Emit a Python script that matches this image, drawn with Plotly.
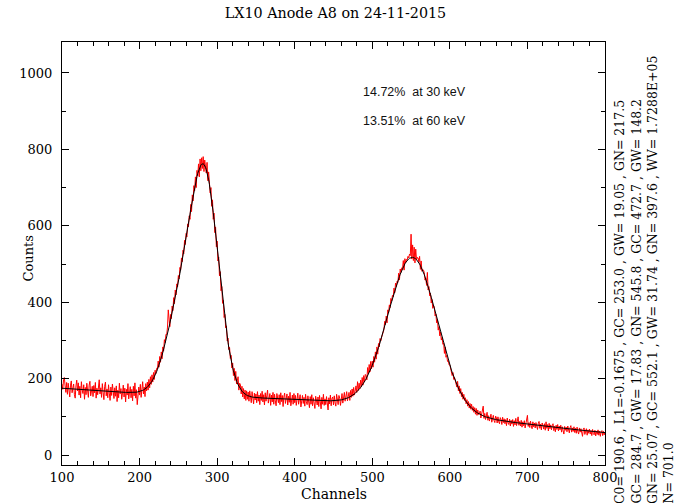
import numpy as np
import plotly.graph_objects as go

# Measured spectrum: counts per channel, channels 100..800 (N = 701)
first_channel = 100
counts = [
    186, 172, 197, 203, 181, 164, 190, 159, 188, 170,
    152, 183, 194, 163, 178, 186, 158, 149, 181, 196,
    168, 189, 157, 180, 150, 192, 171, 161, 184, 146,
    177, 158, 188, 167, 151, 183, 193, 155, 172, 180,
    153, 182, 163, 190, 149, 175, 158, 185, 197, 160,
    176, 151, 187, 164, 145, 180, 191, 155, 173, 150,
    184, 162, 143, 178, 156, 186, 160, 148, 176, 154,
    181, 140, 170, 150, 188, 160, 174, 146, 163, 183,
    152, 175, 139, 172, 157, 187, 147, 166, 179, 150,
    172, 142, 180, 155, 189, 149, 171, 132, 163, 178,
    157, 185, 151, 172, 192, 160, 178, 153, 187, 168,
    191, 170, 198, 176, 205, 185, 210, 191, 216, 198,
    222, 213, 227, 225, 246, 230, 258, 243, 270, 252,
    283, 272, 302, 294, 316, 315, 335, 380, 357, 336,
    368, 357, 390, 378, 412, 396, 432, 419, 448, 440,
    470, 461, 491, 484, 516, 506, 536, 527, 562, 551,
    580, 571, 605, 597, 626, 617, 656, 637, 681, 665,
    705, 692, 728, 700, 745, 731, 762, 728, 775, 744,
    778, 750, 781, 742, 772, 745, 738, 766, 718, 741,
    722, 686, 700, 651, 668, 617, 633, 582, 597, 545,
    560, 508, 518, 469, 480, 430, 441, 397, 405, 360,
    368, 333, 338, 299, 306, 276, 282, 253, 261, 228,
    241, 208, 227, 195, 219, 186, 194, 205, 170, 188,
    185, 160, 180, 152, 174, 147, 170, 143, 168, 146,
    165, 141, 168, 146, 137, 166, 150, 134, 162, 144,
    160, 137, 166, 141, 157, 132, 161, 143, 167, 139,
    158, 131, 163, 141, 155, 170, 136, 152, 161, 130,
    157, 139, 164, 133, 159, 142, 129, 161, 146, 137,
    158, 132, 163, 140, 156, 127, 152, 162, 135, 151,
    160, 131, 154, 138, 164, 129, 151, 157, 133, 161,
    137, 156, 130, 152, 162, 133, 149, 158, 126, 153,
    156, 135, 151, 128, 159, 140, 132, 155, 137, 124,
    153, 133, 158, 129, 150, 136, 122, 154, 140, 131,
    152, 127, 156, 137, 121, 151, 133, 159, 130, 147,
    132, 153, 127, 118, 150, 134, 157, 129, 148, 152,
    131, 155, 137, 128, 159, 140, 132, 156, 149, 130,
    154, 161, 136, 156, 164, 141, 159, 166, 142, 162,
    164, 143, 169, 151, 173, 154, 177, 157, 174, 181,
    164, 192, 169, 188, 174, 196, 179, 203, 183, 208,
    191, 211, 208, 197, 229, 212, 237, 218, 245, 226,
    246, 230, 258, 243, 270, 251, 283, 264, 292, 283,
    305, 299, 308, 315, 326, 328, 350, 341, 364, 346,
    380, 372, 393, 386, 410, 403, 418, 414, 437, 425,
    450, 441, 455, 452, 476, 458, 487, 478, 490, 488,
    509, 484, 514, 503, 512, 511, 520, 516, 526, 522,
    578, 513, 550, 509, 544, 503, 539, 511, 517, 516,
    506, 520, 486, 508, 481, 486, 484, 478, 458, 463,
    444, 478, 432, 441, 417, 424, 398, 407, 384, 391,
    387, 364, 369, 346, 354, 327, 336, 312, 322, 301,
    308, 290, 293, 266, 283, 256, 261, 245, 247, 236,
    236, 227, 225, 208, 216, 198, 203, 193, 192, 178,
    193, 168, 181, 161, 174, 153, 164, 146, 159, 143,
    150, 134, 145, 128, 140, 123, 135, 120, 133, 117,
    127, 112, 124, 107, 122, 104, 118, 106, 108, 115,
    97, 111, 118, 128, 96, 109, 93, 106, 112, 91,
    103, 89, 101, 107, 86, 99, 104, 90, 85, 102,
    97, 84, 100, 87, 82, 98, 93, 80, 99, 85,
    95, 82, 93, 77, 97, 84, 80, 94, 76, 91,
    81, 93, 75, 90, 79, 96, 77, 89, 100, 78,
    88, 76, 91, 73, 87, 77, 90, 71, 86, 89,
    104, 75, 85, 72, 89, 76, 69, 87, 74, 84,
    71, 85, 73, 67, 83, 88, 70, 81, 66, 84,
    78, 68, 82, 65, 87, 70, 80, 63, 83, 69,
    79, 66, 77, 82, 64, 75, 61, 78, 67, 80,
    63, 76, 66, 78, 60, 74, 64, 55, 75, 65,
    73, 61, 76, 63, 58, 72, 77, 60, 71, 62,
    74, 59, 70, 57, 73, 61, 55, 71, 60, 69,
    56, 49, 67, 71, 54, 65, 69, 52, 66, 57,
    68, 55, 64, 51, 67, 56, 53, 65, 50, 63,
    54, 66, 52, 63, 49, 61, 64, 51, 62, 53,
    60,
]

# Fit result: linear background plus four Gaussians
bg_c0 = 190.6
bg_l1 = -0.1675
gauss_centres = [253.0, 284.7, 472.7, 552.1]
gauss_widths = [19.05, 17.83, 148.2, 31.74]
gauss_heights = [217.5, 545.8, 25.07, 397.6]
fit_wv = "1.7288E+05"

# Resolution notes
resolution_labels = ["14.72%  at 30 keV", "13.51%  at 60 keV"]
resolution_y = [950, 874]

# Fit parameter listing (printed vertically at the right edge)
param_lines = [
    "C0= 190.6 , L1=-0.1675 , GC= 253.0 , GW= 19.05 , GN= 217.5",
    "GC= 284.7 , GW= 17.83 , GN= 545.8 , GC= 472.7 , GW= 148.2",
    "GN= 25.07 , GC= 552.1 , GW= 31.74 , GN= 397.6 , WV= " + fit_wv,
    "N= 701.0",
]

channels = np.arange(first_channel, first_channel + len(counts))

fit_curve = bg_c0 + bg_l1 * channels.astype(float)
for c, w, h in zip(gauss_centres, gauss_widths, gauss_heights):
    fit_curve = fit_curve + h * np.exp(-((channels - c) ** 2) / (2.0 * w ** 2))

serif = "DejaVu Serif"

fig = go.Figure()
fig.add_trace(go.Scatter(x=channels, y=counts, mode="lines",
                         line=dict(color="#ff0000", width=1)))
fig.add_trace(go.Scatter(x=channels, y=fit_curve, mode="lines",
                         line=dict(color="black", width=1)))

axis_common = dict(
    showgrid=False, zeroline=False, showline=True, linecolor="black",
    linewidth=1, mirror="allticks", ticks="inside", ticklen=7,
    tickcolor="black", tickwidth=1,
    tickfont=dict(family=serif, size=13, color="black"),
)

fig.update_xaxes(range=[100, 800], tickmode="linear", tick0=100, dtick=100,
                 minor=dict(dtick=20, ticks="inside", ticklen=4,
                            tickcolor="black"),
                 **axis_common)
fig.update_yaxes(range=[-26, 1081], tickmode="linear", tick0=0, dtick=200,
                 minor=dict(dtick=100, ticks="inside", ticklen=4,
                            tickcolor="black"),
                 ticklabelstandoff=6, **axis_common)

annotations = [
    dict(text="Channels", xref="paper", yref="paper", x=0.5,
         y=(465 - 494) / 423.0, xanchor="center", yanchor="middle",
         showarrow=False, font=dict(family=serif, size=14, color="black")),
    dict(text="Counts", xref="paper", yref="paper", x=(37 - 62) / 543.0,
         y=(465 - 259) / 423.0, xanchor="right", yanchor="middle",
         textangle=-90, showarrow=False,
         font=dict(family=serif, size=13, color="black")),
]
for label, yv in zip(resolution_labels, resolution_y):
    annotations.append(dict(text=label, x=486, y=yv, xref="x", yref="y",
                            xanchor="left", yanchor="middle", showarrow=False,
                            font=dict(family="Liberation Sans", size=12.5,
                                      color="#111111")))
for i, line in enumerate(param_lines):
    px = [619, 636, 652, 668][i]
    annotations.append(dict(text=line, xref="paper", yref="paper",
                            x=(px - 62) / 543.0, y=(465 - 506) / 423.0,
                            xanchor="center", yanchor="bottom",
                            textangle=-90, showarrow=False,
                            font=dict(family=serif, size=12.5,
                                      color="black")))

fig.update_layout(
    width=679, height=503,
    margin=dict(l=62, r=74, t=42, b=38),
    plot_bgcolor="white", paper_bgcolor="white",
    showlegend=False,
    title=dict(text="LX10 Anode A8 on 24-11-2015", x=342 / 679, xref="paper",
               xanchor="center", y=1 - 13 / 503, yanchor="middle",
               font=dict(family=serif, size=14.3, color="black")),
    annotations=annotations,
)

fig.write_html("out.html")
